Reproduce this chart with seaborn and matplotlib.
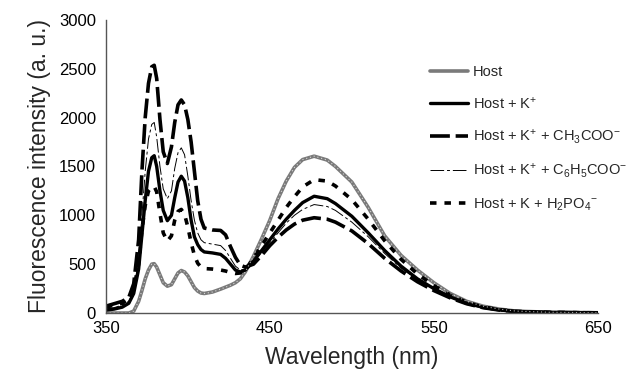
import matplotlib
matplotlib.use("Agg")
import matplotlib.pyplot as plt
import seaborn as sns
import pandas as pd

wavelength = [350, 355, 360, 364, 367, 370, 372, 374, 376, 378,
              379.5, 381, 383, 385, 387.5, 390, 392, 394, 396, 398,
              400, 402, 404, 406, 408, 410, 415, 420, 423, 426,
              429, 432, 435, 440, 445, 450, 455, 460, 465, 470,
              477, 485, 490, 500, 510, 520, 530, 540, 550, 560,
              570, 580, 590, 600, 620, 650]

host = [0, 0, 0, 0, 20, 120, 230, 350, 440, 500,
        505, 470, 390, 310, 275, 290, 350, 410, 435, 420,
        380, 320, 260, 225, 205, 200, 215, 245, 265, 285,
        310, 350, 420, 580, 760, 950, 1170, 1350, 1490, 1570,
        1605, 1565, 1500, 1340, 1080, 790, 590, 440, 310, 200,
        120, 70, 40, 20, 8, 3]

host_k = [30, 40, 60, 100, 200, 450, 800, 1150, 1450, 1590,
          1610, 1500, 1250, 1050, 945, 1000, 1180, 1340, 1400, 1350,
          1180, 950, 780, 700, 650, 625, 615, 600, 560, 500,
          440, 420, 440, 530, 640, 750, 860, 960, 1050, 1130,
          1195, 1170, 1120, 990, 820, 640, 480, 350, 250, 165,
          100, 58, 32, 16, 6, 2]

host_k_ch3coo = [70, 95, 120, 160, 300, 750, 1450, 2000, 2350, 2520,
                 2535, 2400, 1980, 1650, 1530, 1700, 1950, 2130, 2180, 2130,
                 1980, 1750, 1450, 1150, 960, 870, 850, 845, 800, 680,
                 570, 490, 470, 500, 590, 690, 775, 850, 910, 950,
                 975, 960, 930, 840, 710, 560, 430, 320, 230, 155,
                 95, 55, 30, 15, 6, 2]

host_k_c6h5coo = [40, 55, 80, 120, 230, 550, 1000, 1450, 1780, 1930,
                  1950, 1800, 1500, 1270, 1170, 1250, 1480, 1640, 1690, 1620,
                  1400, 1150, 950, 820, 750, 720, 705, 690, 640, 560,
                  480, 440, 450, 520, 620, 720, 820, 920, 1000, 1060,
                  1110, 1090, 1050, 930, 780, 610, 460, 340, 240, 160,
                  97, 56, 31, 15, 6, 2]

host_k_h2po4 = [60, 80, 100, 140, 250, 500, 850, 1100, 1250, 1290,
                1295, 1240, 1020, 820, 735, 790, 950, 1040, 1060, 1010,
                880, 720, 590, 510, 470, 455, 450, 440, 430, 415,
                405, 410, 440, 560, 690, 820, 950, 1080, 1190, 1290,
                1365, 1350, 1300, 1160, 960, 740, 550, 400, 280, 185,
                110, 62, 34, 17, 7, 2]

labels = ["Host",
          "Host + K$^{+}$",
          "Host + K$^{+}$ + CH$_{3}$COO$^{-}$",
          "Host + K$^{+}$ + C$_{6}$H$_{5}$COO$^{-}$",
          "Host + K + H$_{2}$PO$_{4}$$^{-}$"]

x_ticks = [350, 450, 550, 650]
y_ticks = [0, 500, 1000, 1500, 2000, 2500, 3000]

sns.set_style("white")
plt.rcParams["font.family"] = ["Liberation Sans", "DejaVu Sans"]
plt.rcParams["mathtext.default"] = "regular"

fig = plt.figure(figsize=(6.3, 3.74), dpi=100)
ax = fig.add_axes([0.168, 0.163, 0.781, 0.784])

series = [host, host_k, host_k_ch3coo, host_k_c6h5coo, host_k_h2po4]
styles = [
    dict(color="#7a7a7a", lw=2.6, linestyle="-"),
    dict(color="black", lw=2.4, linestyle="-"),
    dict(color="black", lw=2.6, linestyle=(0, (5.5, 1.6))),
    dict(color="black", lw=0.7, linestyle=(0, (14, 3, 3, 3))),
    dict(color="black", lw=2.6, linestyle=(0, (1.8, 2.2))),
]

for vals, lab, st in zip(series, labels, styles):
    df = pd.DataFrame({"wl": wavelength, "val": vals})
    sns.lineplot(data=df, x="wl", y="val", ax=ax, label=lab,
                 errorbar=None, **st)

# light texture on the Host line, as in the reference
df_host = pd.DataFrame({"wl": wavelength, "val": host})
sns.lineplot(data=df_host, x="wl", y="val", ax=ax, color="white",
             lw=0.8, linestyle=(0, (1, 2.5)), errorbar=None, alpha=0.7)

ax.set_xlim(350, 650)
ax.set_ylim(0, 3000)
ax.set_xticks(x_ticks)
ax.set_yticks(y_ticks)
ax.tick_params(axis="both", direction="in", length=4, width=0.8,
               labelsize=12, colors="black")
ax.tick_params(axis="y", pad=7)
ax.tick_params(axis="x", pad=6)
for s in ["top", "right"]:
    ax.spines[s].set_visible(False)
for s in ["left", "bottom"]:
    ax.spines[s].set_color("#555555")
    ax.spines[s].set_linewidth(1.0)

ax.set_xlabel("Wavelength (nm)", fontsize=16.5, labelpad=7)
ax.set_ylabel("Fluorescence intensity (a. u.)", fontsize=16.5, labelpad=6)

handles, labs = ax.get_legend_handles_labels()
leg = ax.legend(handles[:5], labs[:5], loc="upper left",
                bbox_to_anchor=(0.683, 0.825),
                bbox_transform=fig.transFigure, frameon=False,
                fontsize=10.5, handlelength=2.6, handletextpad=0.3,
                labelspacing=1.1, borderpad=0, borderaxespad=0)

fig.savefig("out.png", dpi=100)
